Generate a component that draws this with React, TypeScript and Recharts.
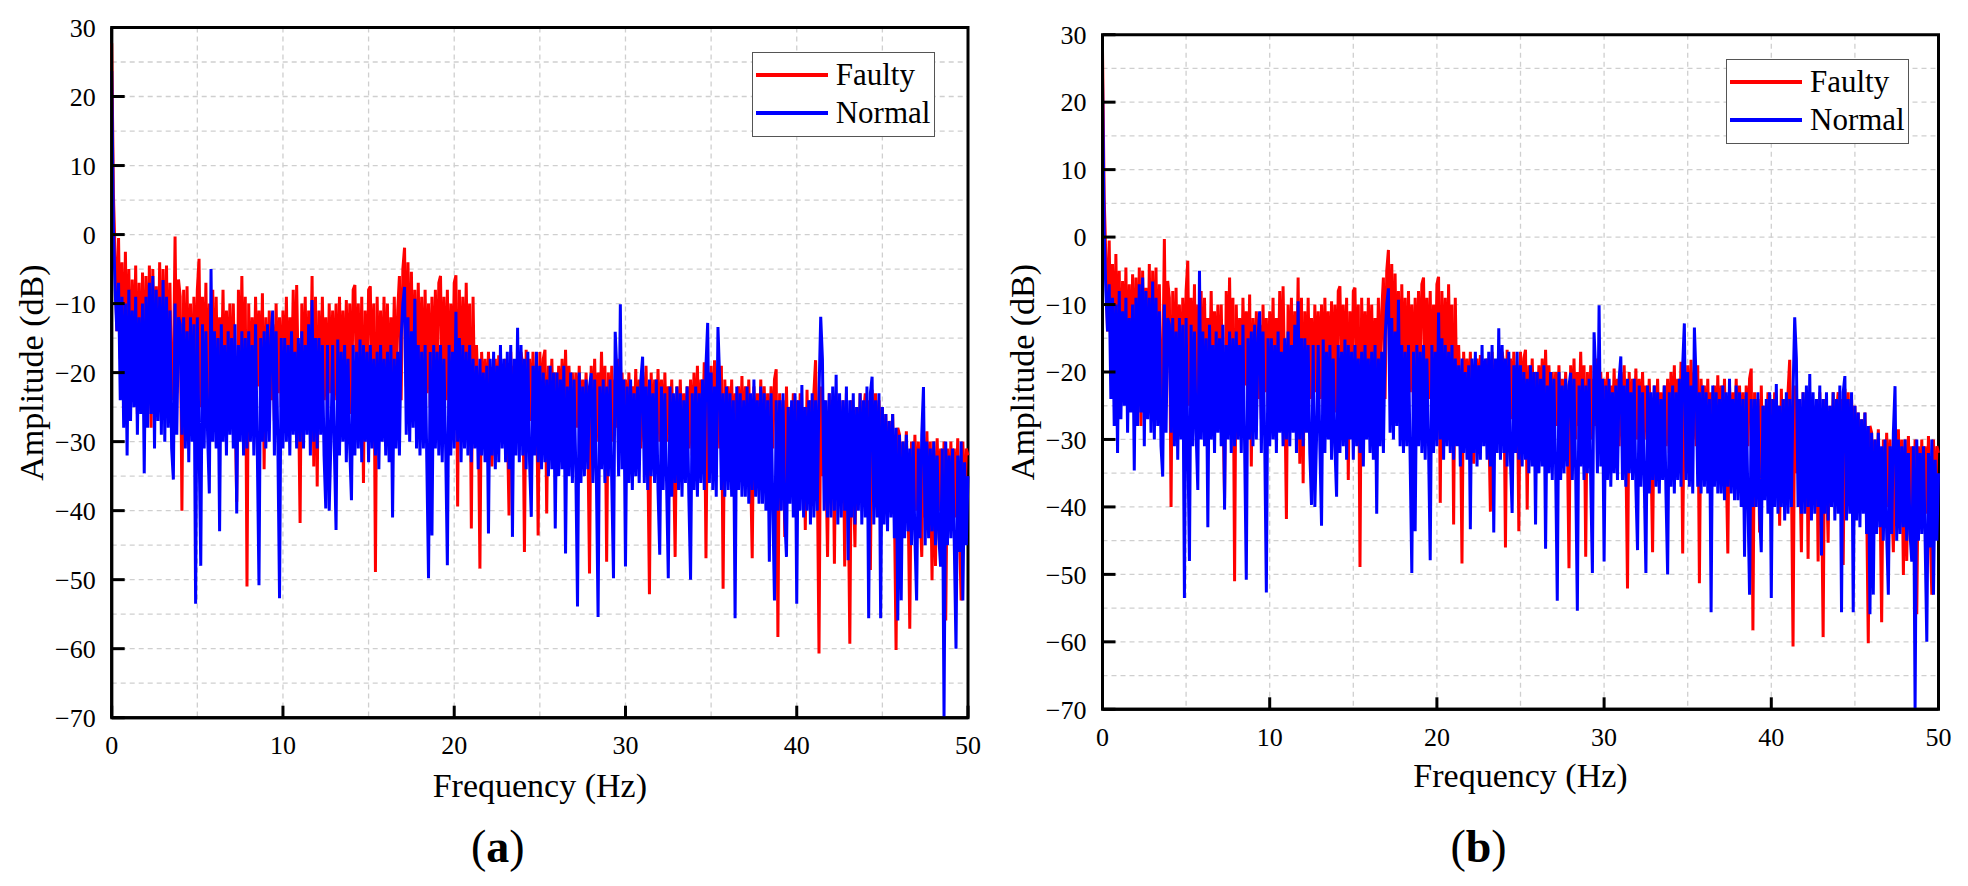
import { LineChart, Line, XAxis, YAxis, CartesianGrid, ReferenceArea, Legend, Label } from 'recharts';

const SERIF = 'Liberation Serif, Times New Roman, DejaVu Serif, serif';

// spectrum sampled every 0.1 Hz, one row per Hz
const STEP_HZ = 0.1;
const xTicks = [0, 10, 20, 30, 40, 50];
const yTicks = [-70, -60, -50, -40, -30, -20, -10, 0, 10, 20, 30];
const gridX = [5, 10, 15, 20, 25, 30, 35, 40, 45];
const gridY = [-65, -60, -55, -50, -45, -40, -35, -30, -25, -20, -15, -10, -5, 0, 5, 10, 15, 20, 25];

// Faulty amplitude (dB)
const faultyDb = [
  27.7, 5.8, -3, -14, -0.5, -18, -4, -22, -2.5, -20, // 0 Hz
  -5, -24, -6.5, -20, -4.5, -26, -7, -22, -5.5, -25,
  -6, -23, -4.5, -28, -5, -21, -7.5, -24, -4, -26,
  -5, -22, -4.5, -25, -7, -24, -21, -0.3, -23, -6.5,
  -9, -40, -8, -27, -7.5, -24, -10, -26, -9, -23,
  -8, -3.5, -25, -9, -23, -7, -26, -10, -22, -8, // 5 Hz
  -27, -9, -24, -12, -22, -8, -25, -11, -23, -10,
  -26, -10, -24, -38.7, -8, -23, -6, -25, -9, -51,
  -10, -24, -12, -26, -9, -22, -11, -25, -8.5, -34,
  -12, -26, -11, -24, -13, -27, -10, -23, -12, -25,
  -11, -24, -9, -26, -12, -23, -8, -25, -7.3, -22, // 10 Hz
  -41.8, -10, -24, -9, -26, -11, -23, -6, -33.6, -9,
  -36.5, -11, -25, -9, -24, -12, -26, -10, -23, -11,
  -24, -10, -26, -9, -23, -11, -25, -9.5, -24, -10,
  -26, -8, -7.3, -24, -10, -25, -9, -36, -11, -26,
  -8, -7.5, -25, -10, -48.9, -9, -24, -11, -26, -9, // 15 Hz
  -24, -10, -26, -12, -23, -9, -25, -11, -6, -24,
  -5, -1.9, -22, -4, -24, -5.4, -23, -8, -25, -7,
  -24, -9, -26, -8, -23, -10, -25, -9, -24, -8,
  -23, -7, -6, -25, -9, -24, -8, -26, -10, -23,
  -7, -5.9, -39.4, -8, -24, -9, -25, -7, -23, -10, // 20 Hz
  -42.6, -9, -26, -16, -24, -48.4, -17, -25, -18, -27,
  -17, -27, -33.6, -26, -18, -28, -17.5, -26, -19, -27,
  -18, -27, -40.7, -17, -27, -19, -26, -18, -28, -17,
  -19, -46, -16.7, -28, -18, -27, -17, -26, -19, -43.6,
  -17, -27, -18, -16.7, -40.4, -19, -27, -18, -29, -20, // 25 Hz
  -28, -19, -27, -18, -29, -16.7, -28, -19, -27, -20,
  -29, -20, -28, -19, -30, -21, -28, -20, -29, -49.1,
  -19, -29, -18, -30, -20, -28, -17, -29, -19, -47.4,
  -20, -29, -19, -30, -21, -28, -18, -31, -20, -29,
  -21, -30, -20, -31, -22, -29, -19.5, -30, -21, -31, // 30 Hz
  -20, -30, -19, -31, -52.1, -20, -30, -21, -29, -19.5,
  -30, -21, -31, -20, -30, -22, -29, -21, -31, -46.7,
  -22, -31, -21, -32, -23, -30, -22, -31, -21, -32,
  -20, -31, -19, -32, -21, -30, -18.5, -46.9, -20, -31,
  -19, -32, -18.2, -30, -20, -31, -19, -51.3, -21, -30, // 35 Hz
  -22, -32, -21, -33, -23, -31, -22, -32, -20.5, -33,
  -22, -31, -21, -33, -46.9, -22, -32, -23, -31, -21,
  -33, -22, -32, -23, -34, -22, -31, -21, -19.5, -58.3,
  -23, -33, -24, -43.8, -22, -35, -25, -33, -23, -34,
  -24, -35, -23, -34, -25, -42.8, -22.5, -35, -24, -34, // 40 Hz
  -23, -18.2, -34, -60.7, -22, -35, -24, -33, -46.7, -23,
  -35, -24, -47.7, -23, -36, -25, -34, -24, -48.1, -23,
  -36, -59.3, -24, -35, -45.3, -25, -36, -23, -34, -26,
  -23, -36, -24, -48.6, -22.5, -37, -23, -36, -24, -35,
  -25, -37, -26, -38, -27, -36, -26, -39, -60.2, -28, // 45 Hz
  -29, -39, -30, -40, -28.5, -38, -57.1, -30, -39, -29,
  -40, -30, -39, -46.7, -29, -41, -28.5, -40, -30, -50.1,
  -30, -48, -29.5, -40, -31, -42, -30, -55.9, -31, -41,
  -30, -42, -31, -41, -29.5, -43, -53, -30, -42, -31,
  -32, // 50 Hz
];

// Normal amplitude (dB)
const normalDb = [
  23.7, 1, -8, -14, -7, -24, -9, -28, -10, -32, // 0 Hz
  -8, -27, -11, -25, -9, -29, -12, -26, -10, -34.6,
  -9, -28, -7, -26, -6, -31, -8, -27, -9, -29,
  -6.6, -30, -9, -28, -11, -31, -35.5, -10, -29, -12,
  -13, -29, -12, -31, -14, -33, -12, -30, -13, -53.5,
  -12, -30, -48, -13, -31, -14, -29, -37.5, -5, -30, // 5 Hz
  -14, -31, -15, -43, -13, -30, -16, -32, -14, -29,
  -15, -31, -13, -40.4, -16, -30, -14, -32, -15, -31,
  -14, -30, -16, -32, -13, -31, -50.8, -15, -30, -14,
  -31, -13, -30, -15, -11, -32, -14, -30, -52.7, -15,
  -31, -15, -30, -16, -32, -14, -29, -17, -31, -15, // 10 Hz
  -30, -14, -31, -16, -29, -13, -32, -9.5, -30, -15,
  -31, -15, -29, -16, -32, -39.7, -16, -40, -30, -16,
  -31, -42.8, -15.2, -32, -17, -30, -16, -33, -18, -31,
  -38.5, -16, -32, -17, -31, -15.2, -33, -16, -30, -17,
  -33, -16, -31, -18, -32, -17, -34, -16, -30, -18, // 15 Hz
  -32, -17, -33, -16, -41, -18, -31, -17, -32, -15,
  -10, -7.6, -29, -12, -30, -14, -28, -9.3, -31, -16,
  -32, -17, -31, -16, -33, -49.8, -17, -43.6, -16, -31,
  -17, -32, -16, -33, -18, -31, -47.9, -16, -32, -17,
  -31, -11.2, -30, -15, -33, -16, -31, -17, -32, -16, // 20 Hz
  -33, -18, -31, -19, -34, -18, -32, -20, -33, -19,
  -43.3, -18, -32, -17, -34, -19, -33, -16, -31, -18,
  -33, -17, -34, -16, -43.8, -18, -32, -13.5, -33, -16,
  -32, -18, -34, -17, -33, -40.9, -19, -32, -17, -33,
  -19, -34, -20, -33, -21, -35, -19, -34, -20, -42.6, // 25 Hz
  -20, -35, -21, -34, -19, -46.2, -22, -35, -20, -36,
  -21, -34, -53.9, -20, -36, -22, -35, -21, -34, -22,
  -20.1, -36, -21, -35, -55.4, -22, -34, -21, -36, -22,
  -35, -21, -36, -49.8, -14.1, -20, -35, -10.1, -34, -21,
  -48.1, -22, -36, -21, -37, -23, -35, -22, -36, -21, // 30 Hz
  -17.7, -36, -22, -37, -21, -35, -23, -36, -21, -37,
  -46.4, -22, -37, -23, -36, -49.8, -22, -38, -23, -36,
  -22, -37, -23, -38, -24, -36, -22, -38, -50, -23,
  -37, -22, -38, -23, -36, -21, -37, -19, -12.8, -36,
  -20, -37, -22, -38, -13.4, -21, -37, -23, -38, -22, // 35 Hz
  -37, -23, -38, -24, -55.6, -22, -37, -23, -38, -24,
  -38, -22, -39, -23, -37, -21, -38, -24, -39, -22,
  -39, -23, -40, -24, -47.4, -23, -39, -53, -24, -40,
  -24, -40, -23, -41, -46.7, -25, -39, -24, -41, -23,
  -53.5, -24, -40, -21.8, -41, -25, -40, -24, -42, -23, // 40 Hz
  -41, -24, -40, -23, -11.9, -18, -40, -24, -41, -23,
  -41, -22, -40, -20.3, -42, -23, -41, -24, -40, -22,
  -47.2, -24, -41, -23, -42, -25, -40, -23, -42, -24,
  -41, -22, -55.6, -23, -20.6, -42, -24, -41, -23, -55.6,
  -25, -42, -26, -43, -27, -41, -26, -44, -28, -55.9, // 45 Hz
  -29, -53, -30, -44, -29, -43, -31, -45, -30, -44,
  -53, -31, -44, -29, -22.1, -45, -30, -44, -31, -43,
  -30, -45, -32, -44, -48.1, -31, -69.9, -30, -45, -32,
  -44, -31, -45, -60, -32, -46, -30, -53, -33, -45,
  -35, // 50 Hz
];

const data = faultyDb.map((v, i) => ({
  f: Math.round(i * STEP_HZ * 10) / 10,
  faulty: v,
  normal: normalDb[i],
}));

const minus = (v: number) => String(v).replace('-', '\u2212');

const LegendBox = ({ payload }: any) => (
  <div
    style={{
      position: 'relative',
      width: 183,
      height: 85,
      boxSizing: 'border-box',
      border: '1.3px solid #555',
      background: '#fff',
      fontFamily: SERIF,
      fontSize: 31,
      color: '#000',
    }}
  >
    {(payload || []).map((p: any, i: number) => (
      <div
        key={p.value}
        style={{ position: 'absolute', left: 0, top: 3 + i * 38.6, height: 38, display: 'flex', alignItems: 'center' }}
      >
        <span style={{ display: 'inline-block', marginLeft: 3, width: 72, height: 4, background: p.color }} />
        <span style={{ marginLeft: 8, lineHeight: '38px', whiteSpace: 'nowrap' }}>{p.value}</span>
      </div>
    ))}
  </div>
);

interface PanelProps {
  left: number;
  width: number;
  margin: { top: number; right: number; bottom: number; left: number };
  legendAt: { left: number; top: number };
  caption: string;
  captionY: number;
  freqLabelDy: number;
}

function SpectrumPanel({ left, width, margin, legendAt, caption, captionY, freqLabelDy }: PanelProps) {
  const axisStyle = { stroke: '#000', strokeWidth: 3 };
  return (
    <div style={{ position: 'absolute', left, top: 0 }}>
      <LineChart width={width} height={886} data={data} margin={margin}>
        <CartesianGrid
          horizontalValues={gridY}
          verticalValues={gridX}
          stroke="#cfcfcf"
          strokeDasharray="5 4"
          strokeWidth={1.3}
        />
        <XAxis
          type="number"
          dataKey="f"
          domain={[0, 50]}
          ticks={xTicks}
          interval={0}
          height={60}
          tickSize={-12}
          tickMargin={30}
          axisLine={axisStyle}
          tickLine={axisStyle}
          tick={{ fontFamily: SERIF, fontSize: 26, fill: '#000' }}
        >
          <Label
            content={({ viewBox }: any) => {
              const cx = viewBox.x + viewBox.width / 2;
              return (
                <g>
                  <text x={cx} y={viewBox.y + freqLabelDy} textAnchor="middle" fontFamily={SERIF} fontSize={34} fill="#000">
                    Frequency (Hz)
                  </text>
                  <text x={cx - 42} y={captionY} textAnchor="middle" fontFamily={SERIF} fontSize={46} fill="#000">
                    (<tspan fontWeight="bold">{caption}</tspan>)
                  </text>
                </g>
              );
            }}
          />
        </XAxis>
        <YAxis
          type="number"
          domain={[-70, 30]}
          ticks={yTicks}
          interval={0}
          width={60}
          tickSize={-13}
          tickMargin={29}
          axisLine={axisStyle}
          tickLine={axisStyle}
          tickFormatter={minus}
          tick={{ fontFamily: SERIF, fontSize: 26, fill: '#000' }}
        >
          <Label
            content={({ viewBox }: any) => {
              const x = viewBox.x + viewBox.width - 68.7;
              const y = viewBox.y + viewBox.height / 2;
              return (
                <text x={x} y={y} transform={`rotate(-90 ${x} ${y})`} textAnchor="middle" fontFamily={SERIF} fontSize={34} fill="#000">
                  Amplitude (dB)
                </text>
              );
            }}
          />
        </YAxis>
        <Line type="linear" dataKey="faulty" name="Faulty" stroke="#ff0000" strokeWidth={3} dot={false} isAnimationActive={false} />
        <Line type="linear" dataKey="normal" name="Normal" stroke="#0000ff" strokeWidth={3} dot={false} isAnimationActive={false} />
        <ReferenceArea x1={0} x2={50} y1={-70} y2={30} fill="none" stroke="#000" strokeWidth={3} ifOverflow="visible" />
        <Legend
          layout="vertical"
          align="center"
          verticalAlign="middle"
          wrapperStyle={{ position: 'absolute', left: legendAt.left, top: legendAt.top, width: 183, height: 85 }}
          content={LegendBox}
        />
      </LineChart>
    </div>
  );
}

export default function App() {
  return (
    <div style={{ position: 'absolute', left: 0, top: 0, width: 1968, height: 886, background: '#fff', fontFamily: SERIF }}>
      <SpectrumPanel
        left={0}
        width={1000}
        margin={{ top: 27.5, right: 32, bottom: 108.3, left: 51.7 }}
        legendAt={{ left: 751.7, top: 51.7 }}
        caption="a"
        captionY={862}
        freqLabelDy={79.3}
      />
      <SpectrumPanel
        left={990}
        width={978}
        margin={{ top: 34.7, right: 29.5, bottom: 116.7, left: 52.5 }}
        legendAt={{ left: 736, top: 58.7 }}
        caption="b"
        captionY={862}
        freqLabelDy={78}
      />
    </div>
  );
}
